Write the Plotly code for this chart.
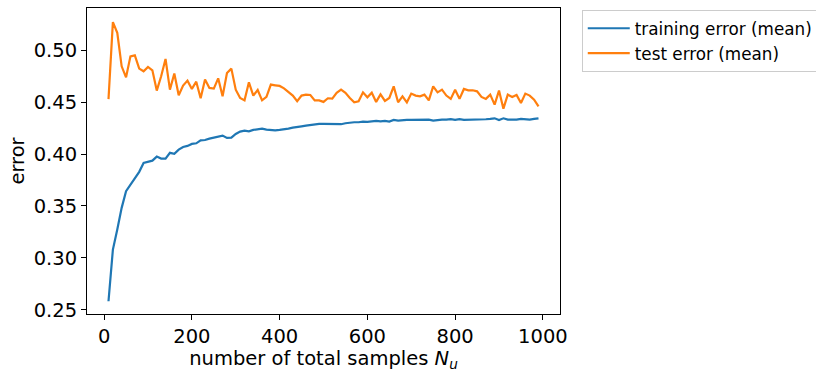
import plotly.graph_objects as go

samples = list(range(10, 1000, 10))

train_error = [
    0.2582, 0.3080, 0.3273, 0.3482, 0.3642, 0.3706, 0.3764, 0.3829, 0.3915, 0.3925,
    0.3937, 0.3976, 0.3957, 0.3957, 0.4012, 0.4002, 0.4043, 0.4069, 0.4079, 0.4098,
    0.4104, 0.4133, 0.4136, 0.4149, 0.4159, 0.4162, 0.4178, 0.4156, 0.4159, 0.4194,
    0.4217, 0.4226, 0.4220, 0.4233, 0.4236, 0.4246, 0.4236, 0.4229, 0.4229, 0.4233,
    0.4236, 0.4246, 0.4255, 0.4265, 0.4268, 0.4275, 0.4281, 0.4284, 0.4291, 0.4291,
    0.4291, 0.4288, 0.4284, 0.4288, 0.4297, 0.4303, 0.4307, 0.4307, 0.4313, 0.4310,
    0.4316, 0.4320, 0.4316, 0.4320, 0.4313, 0.4329, 0.4323, 0.4329, 0.4329, 0.4329,
    0.4329, 0.4332, 0.4332, 0.4332, 0.4323, 0.4329, 0.4332, 0.4332, 0.4336, 0.4329,
    0.4336, 0.4329, 0.4329, 0.4329, 0.4332, 0.4332, 0.4336, 0.4339, 0.4345, 0.4329,
    0.4345, 0.4332, 0.4329, 0.4332, 0.4339, 0.4332, 0.4332, 0.4339, 0.4345,
]

test_error = [
    0.4530, 0.5272, 0.5168, 0.4846, 0.4740, 0.4942, 0.4952, 0.4824, 0.4798, 0.4840,
    0.4807, 0.4612, 0.4750, 0.4917, 0.4621, 0.4776, 0.4567, 0.4660, 0.4708, 0.4628,
    0.4698, 0.4538, 0.4718, 0.4638, 0.4631, 0.4730, 0.4557, 0.4782, 0.4824, 0.4621,
    0.4541, 0.4518, 0.4692, 0.4564, 0.4618, 0.4518, 0.4551, 0.4670, 0.4663, 0.4657,
    0.4634, 0.4602, 0.4564, 0.4509, 0.4564, 0.4573, 0.4570, 0.4518, 0.4518, 0.4503,
    0.4538, 0.4535, 0.4590, 0.4621, 0.4590, 0.4541, 0.4499, 0.4509, 0.4595, 0.4547,
    0.4592, 0.4503, 0.4576, 0.4513, 0.4541, 0.4653, 0.4499, 0.4557, 0.4499, 0.4583,
    0.4564, 0.4557, 0.4573, 0.4518, 0.4653, 0.4595, 0.4621, 0.4564, 0.4532, 0.4621,
    0.4532, 0.4628, 0.4615, 0.4615, 0.4605, 0.4551, 0.4532, 0.4573, 0.4477, 0.4612,
    0.4438, 0.4573, 0.4551, 0.4570, 0.4493, 0.4583, 0.4564, 0.4525, 0.4460,
]

x_ticks = [0, 200, 400, 600, 800, 1000]
y_ticks = [0.25, 0.30, 0.35, 0.40, 0.45, 0.50]

FONT = "DejaVu Sans"
TICK_SIZE = 19.5
TITLE_SIZE = 19.5
LEGEND_SIZE = 16.8

fig = go.Figure()
fig.add_trace(go.Scatter(x=samples, y=train_error, mode="lines",
                         name="training error (mean)",
                         line=dict(color="#1f77b4", width=2.2)))
fig.add_trace(go.Scatter(x=samples, y=test_error, mode="lines",
                         name="test error (mean)",
                         line=dict(color="#ff7f0e", width=2.2)))

axis_common = dict(showline=True, linecolor="black", linewidth=1, mirror=True,
                   ticks="outside", ticklen=5, tickwidth=1, tickcolor="black",
                   showgrid=False, zeroline=False,
                   tickfont=dict(family=FONT, size=TICK_SIZE, color="black"))

fig.update_layout(
    width=816, height=372,
    margin=dict(l=87, r=256, t=8, b=58, autoexpand=False),
    paper_bgcolor="white", plot_bgcolor="white",
    font=dict(family=FONT, size=TICK_SIZE, color="black"),
    xaxis=dict(range=[-39, 1039], tickvals=x_ticks,
               ticktext=[str(v) for v in x_ticks],
               title=dict(text="number of total samples <i>N</i><sub><i>u</i></sub>",
                          font=dict(family=FONT, size=TITLE_SIZE), standoff=4),
               **axis_common),
    yaxis=dict(range=[0.2459, 0.5408], tickvals=y_ticks,
               ticktext=[f"{v:.2f}" for v in y_ticks],
               title=dict(text="error", font=dict(family=FONT, size=TITLE_SIZE), standoff=3),
               **axis_common),
    legend=dict(x=1.046, y=0.994, xanchor="left", yanchor="top",
                bordercolor="#cccccc", borderwidth=1, bgcolor="white",
                itemwidth=42,
                font=dict(family=FONT, size=LEGEND_SIZE), tracegroupgap=0),
    showlegend=True,
)

fig.write_html("out.html")
